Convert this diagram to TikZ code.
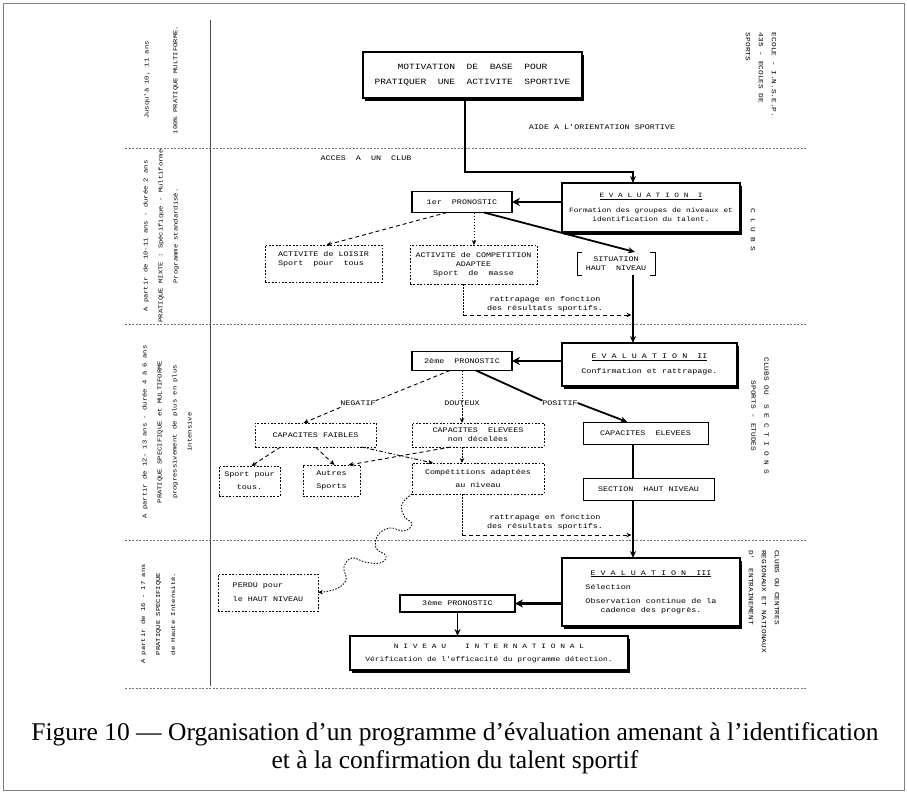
\documentclass[tikz,border=0pt]{standalone}
\usepackage{fontspec}
\setmainfont{Liberation Serif}
\newfontfamily\tw[FakeStretch=1.2]{Liberation Mono}
\usetikzlibrary{arrows.meta,shadows}
\begin{document}
\begin{tikzpicture}[x=1pt,y=-1pt,
  every node/.style={inner sep=0pt, outer sep=0pt},
  txt/.style={font=\tw\fontsize{7}{9}\selectfont, align=center},
  sidetxt/.style={font=\tw\fontsize{6}{15}\selectfont, align=center},
  rtxt/.style={font=\tw\fontsize{6.5}{13}\selectfont},
  evalbox/.style={txt, draw, line width=1.4pt, fill=white, drop shadow={shadow xshift=2.2pt, shadow yshift=-3pt, fill=black, opacity=1}},
  pronbox/.style={txt, draw, line width=1.5pt, fill=white},
  dotbox/.style={txt, draw, line width=0.8pt, dash pattern=on 1.8pt off 1.6pt},
  plainbox/.style={txt, draw, line width=1pt},
  sepline/.style={draw=black!55, line width=0.6pt, dash pattern=on 2pt off 1.5pt},
  bigarrow/.style={line width=1.8pt, -{Stealth[length=7pt,width=6pt]}},
  fatarrow/.style={line width=2.6pt, -{Stealth[length=8pt,width=8pt]}},
  dashline/.style={line width=0.9pt, dash pattern=on 4pt off 3pt},
  dasharrow/.style={dashline, -{Stealth[length=5pt,width=4.5pt]}},
  dotline/.style={line width=0.9pt, dash pattern=on 1.5pt off 1.5pt},
  dotarrow/.style={dotline, -{Stealth[length=5pt,width=4.5pt]}},
  dashdotarrow/.style={line width=0.9pt, dash pattern=on 4pt off 2pt on 1pt off 2pt, -{Stealth[length=5pt,width=4.5pt]}},
]
\useasboundingbox (0,0) rectangle (907,792);
\draw[black!50, line width=0.6pt] (3,3) rectangle (904,790);

% separators
\draw[sepline] (125,148) -- (807,148);
\draw[sepline] (125,324) -- (807,324);
\draw[sepline] (125,540) -- (807,540);
\draw[sepline] (125,688) -- (807,688);
\draw[black!70, line width=0.8pt] (210,20) -- (210,686);

% left column
\node[sidetxt, rotate=90] (l1a) at (147,80) {Jusqu'à 10, 11 ans};
\node[sidetxt, rotate=90] (l1b) at (176,80) {100\% PRATIQUE MULTIFORME.};
\node[sidetxt, rotate=90] (l2) at (161,236) {A partir de 10-11 ans - durée 2 ans\\PRATIQUE MIXTE : Spécifique - Multiforme\\Programme standardisé.};
\node[sidetxt, rotate=90] (l3) at (167,432) {A partir de 12- 13 ans - durée 4 à 6 ans\\PRATIQUE SPECIFIQUE et MULTIFORME\\progressivement de plus en plus\\intensive};
\node[sidetxt, rotate=90] (l4) at (158,614) {A partir de 16 - 17 ans\\PRATIQUE SPECIFIQUE\\de Haute Intensité.};

% right column
\node[rtxt, rotate=-90, anchor=west, align=left] (r1) at (761,33) {ECOLE - I.N.S.E.P.\\435 - ECOLES DE\\SPORTS};
\node[rtxt, rotate=-90] (r2) at (753,230) {C L U B S};
\node[rtxt, rotate=-90, align=center] (r3) at (760,416) {CLUBS OU~ S E C T I O N S\\SPORTS - ETUDES};
\node[rtxt, rotate=-90, anchor=west, align=left] (r4) at (764,550) {CLUBS OU CENTRES\\REGIONAUX ET NATIONAUX\\D'~ ENTRAINEMENT};

% boxes
\node[evalbox, minimum width=219pt, minimum height=46pt, font=\tw\fontsize{8}{11}\selectfont] (top) at (472.5,75) {MOTIVATION~ DE~ BASE~ POUR\\[4pt]PRATIQUER~ UNE~ ACTIVITE~ SPORTIVE};
\node[txt] (aide) at (602,127) {AIDE A L'ORIENTATION SPORTIVE};
\node[txt] (acces) at (366,158) {ACCES~ A~ UN~ CLUB};

\node[evalbox, minimum width=178pt, minimum height=49pt, font=\tw\fontsize{6.5}{9}\selectfont] (eval1) at (651,207.5) {\underline{E V A L U A T I O N~ I}\\[6pt]Formation des groupes de niveaux et\\identification du talent.};
\node[pronbox, minimum width=100pt, minimum height=21pt] (pron1) at (462,202) {1er~ PRONOSTIC};
\node[dotbox, minimum width=117pt, minimum height=37pt, align=left] (loisir) at (323.5,263.5) {ACTIVITE de LOISIR\\Sport~ pour~ tous\\[2pt]};
\node[dotbox, minimum width=127pt, minimum height=39pt] (compet) at (473.5,264.5) {ACTIVITE de COMPETITION\\ADAPTEE\\Sport~ de~ masse};
\node[txt, minimum width=78pt, minimum height=23pt] (situation) at (616,263.5) {SITUATION\\HAUT~ NIVEAU};
\draw[line width=0.6pt] ([xshift=5pt]situation.north west) -| (situation.south west) -- ++(5,0);
\draw[line width=0.6pt] ([xshift=-5pt]situation.north east) -| (situation.south east) -- ++(-5,0);
\node[txt] (rt1) at (545,304) {rattrapage en fonction\\des résultats sportifs.};

\node[evalbox, minimum width=175pt, minimum height=43pt] (eval2) at (649.5,364.5) {\underline{E V A L U A T I O N~ II}\\[6pt]Confirmation et rattrapage.};
\node[pronbox, minimum width=100pt, minimum height=19pt] (pron2) at (462,361) {2ème~ PRONOSTIC};
\node[txt] (neg) at (358,403) {NEGATIF};
\node[txt] (dout) at (462,403) {DOUTEUX};
\node[txt] (pos) at (560,403) {POSITIF};

\node[dotbox, minimum width=121pt, minimum height=24pt] (capfaib) at (315.5,435) {CAPACITES FAIBLES};
\node[dotbox, minimum width=132pt, minimum height=24pt] (capnd) at (478,435) {CAPACITES~ ELEVEES\\non décelées};
\node[plainbox, minimum width=125pt, minimum height=22pt] (capelev) at (645.5,433) {CAPACITES~ ELEVEES};
\node[dotbox, minimum width=61pt, minimum height=30pt] (spt) at (249.5,481) {Sport pour\\[4pt]tous.};
\node[dotbox, minimum width=57pt, minimum height=31pt] (autres) at (331.5,480.5) {Autres\\[4pt]Sports};
\node[dotbox, minimum width=132pt, minimum height=31pt] (compad) at (478,478.5) {Compétitions adaptées\\[4pt]au niveau};
\node[plainbox, minimum width=131pt, minimum height=22pt] (section) at (648.5,489) {SECTION~ HAUT NIVEAU};
\node[txt] (rt2) at (545,522) {rattrapage en fonction\\des résultats sportifs.};

\node[evalbox, minimum width=178pt, minimum height=68pt] (eval3) at (651,592) {\underline{E V A L U A T I O N~ III}\\[5pt]\rlap{Sélection}\phantom{Observation continue de la}\\[5pt]Observation continue de la\\cadence des progrès.};
\node[pronbox, minimum width=115pt, minimum height=17pt] (pron3) at (457.5,603.5) {3ème PRONOSTIC};
\node[dotbox, minimum width=100pt, minimum height=37pt, align=left] (perdu) at (268,592.5) {PERDU pour\\[5pt]le HAUT NIVEAU};
\node[evalbox, minimum width=278pt, minimum height=34pt, font=\tw\fontsize{6.6}{9}\selectfont] (niveau) at (489,653) {N I V E A U~~~ I N T E R N A T I O N A L\\[4pt]Vérification de l'efficacité du programme détection.};

% coordinates
\coordinate (lx) at (465,0);
\coordinate (vx) at (633,0);
\coordinate (c1) at (633,172);
\coordinate (r1c) at (463,315);
\coordinate (r2c) at (462,535);
\coordinate (dx1) at (474,0);

% connectors
\draw[bigarrow] (top.south -| lx) |- (c1) -- (eval1.north -| vx);
\draw[fatarrow] (eval1.west |- pron1) -- (pron1.east);
\draw[dasharrow] ([xshift=-15pt]pron1.south) -- ([xshift=3pt]loisir.north);
\draw[dotarrow] (pron1.south -| dx1) -- (compet.north -| dx1);
\draw[bigarrow] ([xshift=22pt]pron1.south) -- ([xshift=19pt]situation.north);
\draw[dotline] (compet.south -| r1c) -- (r1c);
\draw[dasharrow] (r1c) -- ([xshift=-1.5pt]r1c -| vx);
\draw[bigarrow] (situation.south -| vx) -- (eval2.north -| vx);

\draw[fatarrow] (eval2.west |- pron2) -- (pron2.east);
\draw[dashline] ([xshift=-12pt]pron2.south) -- (neg.north east);
\draw[dasharrow] ([yshift=-2pt]neg.south west) -- ([xshift=-12pt]capfaib.north);
\draw[dotline] (pron2.south) -- (dout.north);
\draw[dotarrow] (dout.south) -- (capnd.north -| dout.south);
\draw[line width=1.8pt] ([xshift=14pt]pron2.south) -- (pos.north west);
\draw[bigarrow] (pos.east) -- ([xshift=-18pt]capelev.north);

\draw[dasharrow] ([xshift=-35pt]capfaib.south) -- ([xshift=2pt]spt.north);
\draw[dasharrow] (capfaib.south) -- ([xshift=3pt]autres.north);
\draw[dasharrow] ([xshift=-27pt]capnd.south) -- ([xshift=17pt]autres.north);
\draw[dashdotarrow] ([xshift=46pt]capfaib.south) -- ([xshift=-45pt]compad.north);
\draw[dotarrow] (capnd.south -| dout.south) -- (compad.north -| dout.south);

\draw[line width=1.8pt] (capelev.south -| vx) -- (section.north -| vx);
\draw[bigarrow] (section.south -| vx) -- (eval3.north -| vx);
\draw[dotline] (compad.south -| r2c) -- (r2c);
\draw[dasharrow] (r2c) -- ([xshift=-1.5pt]r2c -| vx);

\draw[fatarrow] (eval3.west |- pron3) -- (pron3.east);
\draw[bigarrow] (pron3.south) -- (niveau.north -| pron3.south);

\draw[dotline, -{Stealth[length=5pt,width=4.5pt]}] plot[smooth, tension=0.7] coordinates {(compad.south west) (402,504) (404,516) (412,524) (404,531) (390,528) (378,535) (376,548) (386,556) (380,563) (365,562) (352,558) (344,567) (346,580) (336,589) (perdu.east)};

% caption
\node[font=\fontsize{25.5}{28}\selectfont, anchor=base] (cap1) at (455,740) {Figure 10 — Organisation d’un programme d’évaluation amenant à l’identification};
\node[font=\fontsize{25.5}{28}\selectfont, anchor=base] (cap2) at (455,768) {et à la confirmation du talent sportif};
\end{tikzpicture}
\end{document}
